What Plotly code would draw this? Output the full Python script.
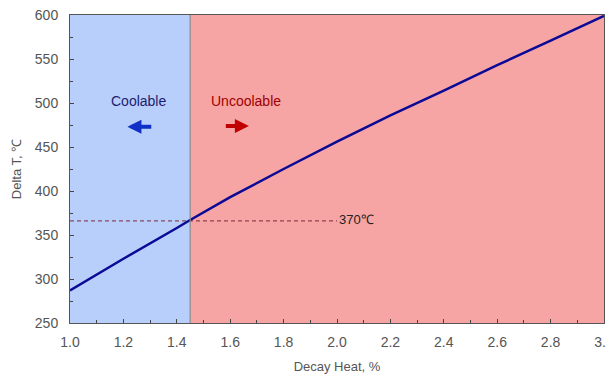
import plotly.graph_objects as go

decay_heat = [1.0, 1.2, 1.4, 1.45, 1.6, 1.8, 2.0, 2.2, 2.4, 2.6, 2.8, 3.0]
delta_t = [287, 323, 358, 367, 393, 425, 456, 486, 514, 543, 571, 599]

limit_x = 1.45
limit_y = 366
limit_label = "370℃"
x_range = [1.0, 3.0]
y_range = [250, 600]
x_ticks = [1.0, 1.2, 1.4, 1.6, 1.8, 2.0, 2.2, 2.4, 2.6, 2.8, 3.0]
y_ticks = [250, 300, 350, 400, 450, 500, 550, 600]

font_family = "Liberation Sans, Arial, sans-serif"

fig = go.Figure()

# Dashed reference line
fig.add_trace(go.Scatter(
    x=[x_range[0], 2.0], y=[limit_y, limit_y], mode="lines",
    line=dict(color="#7a2a3a", width=1, dash="4px,3px"), hoverinfo="skip"))

# Main curve
fig.add_trace(go.Scatter(
    x=decay_heat, y=delta_t, mode="lines",
    line=dict(color="#0a0a96", width=2.5)))

# Background regions
fig.add_shape(type="rect", xref="x", yref="y", x0=x_range[0], x1=limit_x,
              y0=y_range[0], y1=y_range[1], fillcolor="#b9cffb", line_width=0, layer="below")
fig.add_shape(type="rect", xref="x", yref="y", x0=limit_x, x1=x_range[1],
              y0=y_range[0], y1=y_range[1], fillcolor="#f6a4a4", line_width=0, layer="below")
fig.add_shape(type="line", xref="x", yref="y", x0=limit_x, x1=limit_x,
              y0=y_range[0], y1=y_range[1], line=dict(color="#8a8a8a", width=1.2))

# Labels
fig.add_annotation(x=1.257, y=502, text="Coolable", showarrow=False,
                   font=dict(family=font_family, size=14, color="#1c1c70"))
fig.add_annotation(x=1.659, y=502, text="Uncoolable", showarrow=False,
                   font=dict(family=font_family, size=14, color="#a00000"))
fig.add_annotation(x=2.0, y=368, text=limit_label, showarrow=False, xanchor="left",
                   font=dict(family=font_family, size=13, color="#222222"))

# Arrows
fig.add_annotation(x=1.215, y=473, ax=1.31, ay=473, xref="x", yref="y", axref="x", ayref="y",
                   text="", showarrow=True, arrowhead=2, arrowsize=0.7, arrowwidth=4,
                   arrowcolor="#1030c8")
fig.add_annotation(x=1.67, y=474, ax=1.578, ay=474, xref="x", yref="y", axref="x", ayref="y",
                   text="", showarrow=True, arrowhead=2, arrowsize=0.7, arrowwidth=4,
                   arrowcolor="#c00000")

fig.update_layout(
    width=606, height=368,
    margin=dict(l=62, r=10, t=7, b=53),
    paper_bgcolor="white", plot_bgcolor="white",
    showlegend=False,
    font=dict(family=font_family, size=14, color="#555555"),
)
fig.update_xaxes(
    range=x_range, tickvals=x_ticks, ticktext=[f"{v:.1f}" for v in x_ticks],
    ticks="inside", ticklen=4, tickcolor="#444", showgrid=False, zeroline=False,
    showline=True, linecolor="#555", linewidth=1, mirror=True, automargin=False,
    ticklabelstandoff=6, ticklabeloverflow="allow",
    minor=dict(dtick=0.1, ticks="inside", ticklen=3, tickcolor="#444"),
    title=dict(text="Decay Heat, %", font=dict(size=13, color="#555"), standoff=13),
)
fig.update_yaxes(
    range=y_range, tickvals=y_ticks,
    ticks="inside", ticklen=4, tickcolor="#444", showgrid=False, zeroline=False,
    showline=True, linecolor="#555", linewidth=1, mirror=True, automargin=False,
    ticklabelstandoff=8, ticklabeloverflow="allow",
    minor=dict(dtick=25, ticks="inside", ticklen=3, tickcolor="#444"),
    title=dict(text="Delta T, ℃", font=dict(size=13, color="#555"), standoff=10),
)

fig.write_html("out.html")
